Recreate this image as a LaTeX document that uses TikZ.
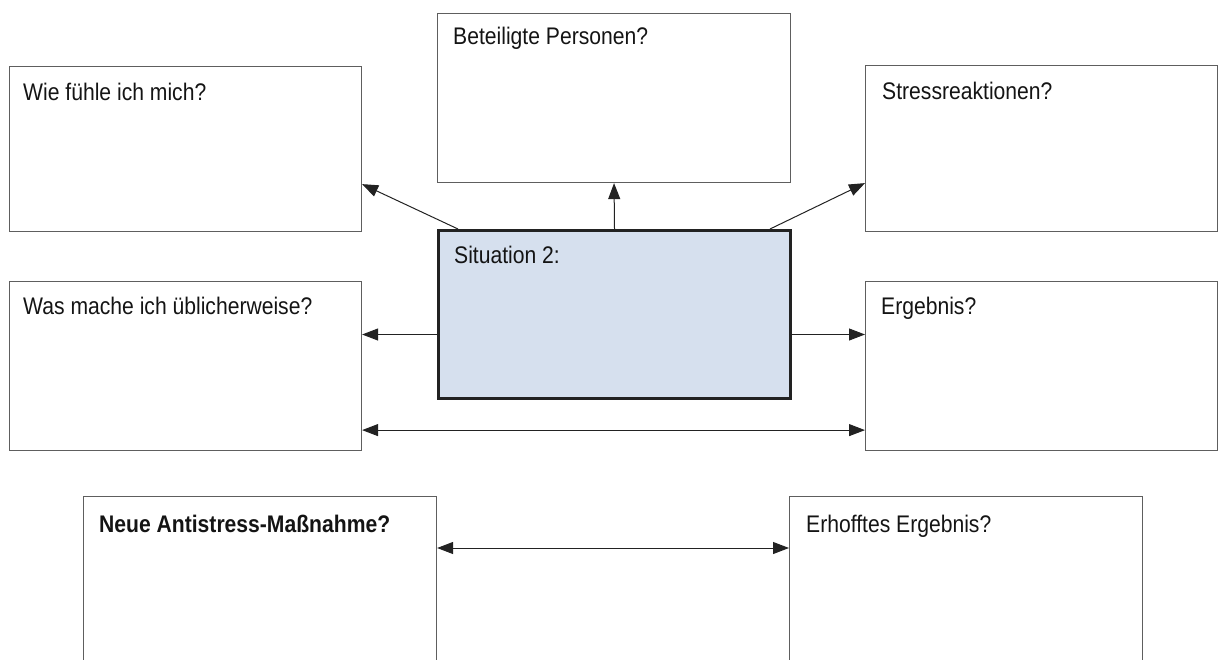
\documentclass[tikz,border=0pt]{standalone}
\usepackage{fontspec}
\setmainfont[FakeStretch=0.88]{Liberation Sans}
\usetikzlibrary{arrows.meta,calc}
\definecolor{boxline}{HTML}{5E5E5E}
\definecolor{arrline}{HTML}{222222}
\definecolor{sitfill}{HTML}{D6E0EE}
\tikzset{
  qbox/.style={draw=boxline,line width=1.1pt,rectangle,inner sep=0pt,anchor=north west},
  sitbox/.style={draw=arrline,line width=3pt,fill=sitfill,rectangle,inner sep=0pt,anchor=north west},
  qtext/.style={anchor=base west,inner sep=0pt,text=black!92,font=\fontsize{24}{28}\selectfont},
  conn/.style={draw=arrline,line width=1pt,-{Triangle[length=16pt,width=12pt]}},
  dconn/.style={draw=arrline,line width=1pt,{Triangle[length=16pt,width=12pt]}-{Triangle[length=16pt,width=12pt]}}
}
\begin{document}
\begin{tikzpicture}[x=1pt,y=-1pt]
\useasboundingbox (0,0) rectangle (1218,659);
\clip (0,0) rectangle (1218,659);
% boxes
\node[qbox,minimum width=352pt,minimum height=165pt] (wie) at (9,66) {};
\node[qbox,minimum width=353pt,minimum height=169pt] (bet) at (437,13) {};
\node[qbox,minimum width=352pt,minimum height=166pt] (str) at (865,65) {};
\node[qbox,minimum width=352pt,minimum height=169pt] (was) at (9,281) {};
\node[qbox,minimum width=352pt,minimum height=169pt] (erg) at (865,281) {};
\node[sitbox,minimum width=352pt,minimum height=168pt] (sit) at (437,229) {};
\node[qbox,minimum width=353pt,minimum height=190pt] (neu) at (83,496) {};
\node[qbox,minimum width=353pt,minimum height=190pt] (hof) at (789,496) {};
% texts
\node[qtext] (twie) at ($(wie.north west)+(14,34)$) {Wie fühle ich mich?};
\node[qtext] (tbet) at ($(bet.north west)+(16,31)$) {Beteiligte Personen?};
\node[qtext] (tstr) at ($(str.north west)+(17,34)$) {Stressreaktionen?};
\node[qtext] (twas) at ($(was.north west)+(14,33)$) {Was mache ich üblicherweise?};
\node[qtext] (terg) at ($(erg.north west)+(16,33)$) {Ergebnis?};
\node[qtext] (tsit) at ($(sit.north west)+(17,34)$) {Situation 2:};
\node[qtext,font=\fontsize{24}{28}\selectfont\bfseries] (tneu) at ($(neu.north west)+(16,36)$) {Neue Antistress-Maßnahme?};
\node[qtext] (thof) at ($(hof.north west)+(17,36)$) {Erhofftes Ergebnis?};
% connectors
\coordinate (sl) at ($(sit.north west)+(21,0)$);
\coordinate (sr) at ($(sit.north east)+(-22,0)$);
\coordinate (wl) at ($(wie.south east)+(0,-48)$);
\coordinate (wr) at ($(str.south west)+(0,-49)$);
\draw[conn] (sit.north) -- (bet.south);
\draw[conn] (sl) -- (wl);
\draw[conn] (sr) -- (wr);
\coordinate (ml) at ($(sit.west)+(0,20)$);
\coordinate (mr) at ($(sit.east)+(0,20)$);
\draw[conn] (ml) -- (ml -| was.east);
\draw[conn] (mr) -- (mr -| erg.west);
\coordinate (lo) at ($(was.south east)+(0,-21)$);
\draw[dconn] (lo) -- (lo -| erg.west);
\coordinate (bo) at ($(neu.north east)+(0,52)$);
\draw[dconn] (bo) -- (bo -| hof.west);
\end{tikzpicture}
\end{document}
